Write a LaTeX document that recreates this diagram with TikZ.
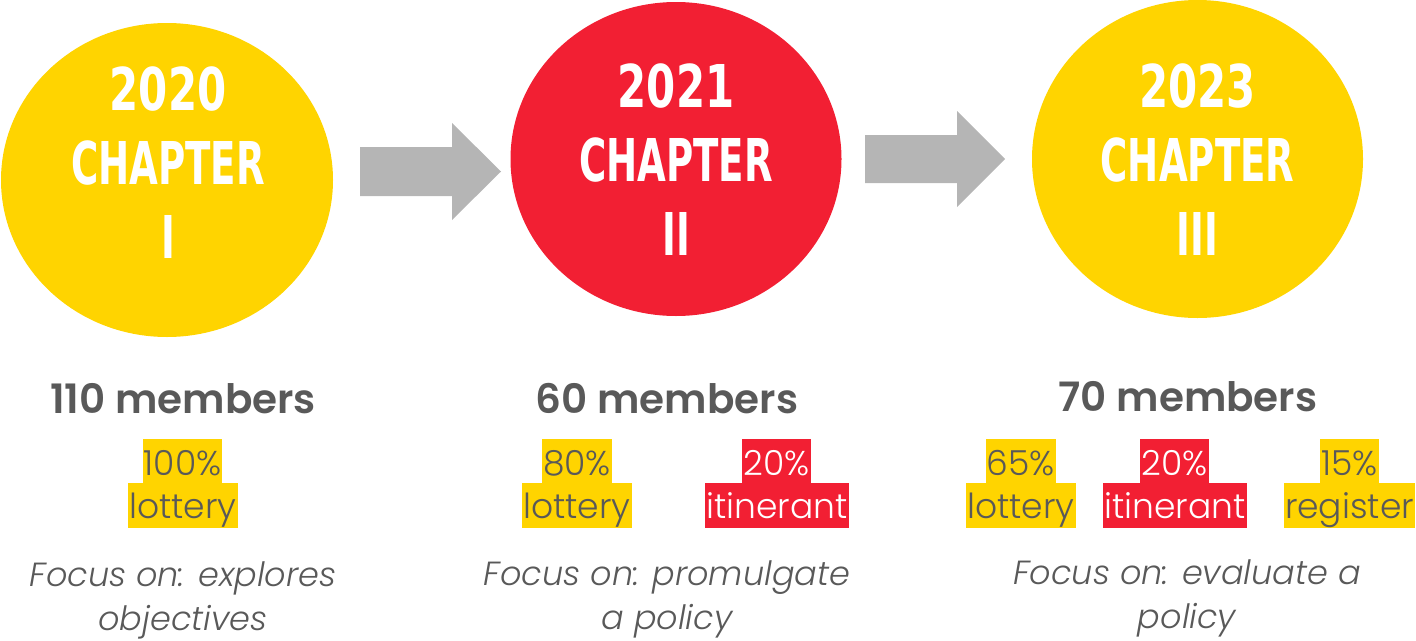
\documentclass[tikz,border=0pt]{standalone}
\usepackage{fontspec}
\setmainfont{Poppins}
\newfontfamily\headfont{DejaVu Sans}[FakeStretch=0.63]
\newfontfamily\yearfont{DejaVu Sans}[FakeStretch=0.71]
\newfontfamily\lightfont{Poppins Light}
\newfontfamily\focusfont{Poppins Light Italic}
\newfontfamily\membfont{Poppins SemiBold}
\usetikzlibrary{shapes.geometric}
\definecolor{cyel}{HTML}{FFD400}
\definecolor{cred}{HTML}{F21F33}
\definecolor{cgray}{HTML}{B5B5B5}
\definecolor{ctext}{HTML}{595959}
\begin{document}
\begin{tikzpicture}[x=1pt,y=-1pt,
 chap/.style={ellipse, minimum width=332pt, minimum height=314pt, inner sep=0pt},
 headtxt/.style={anchor=base, text=white, font=\headfont\bfseries\fontsize{59}{59}\selectfont, inner sep=0pt},
 yeartxt/.style={anchor=base, text=white, font=\yearfont\bfseries\fontsize{59}{59}\selectfont, inner sep=0pt},
 members/.style={anchor=base, text=ctext, font=\membfont\fontsize{40.5}{40.5}\selectfont, inner sep=0pt},
 pcttop/.style={anchor=base, inner xsep=1pt, inner ysep=0pt, font=\lightfont\fontsize{34.5}{34.5}\selectfont, text height=36pt, text depth=8pt},
 pctbot/.style={anchor=base, inner xsep=1pt, inner ysep=0pt, font=\lightfont\fontsize{34.5}{34.5}\selectfont, text height=35pt, text depth=10pt},
 ylw/.style={fill=cyel, text=ctext},
 rd/.style={fill=cred, text=white},
 focus/.style={anchor=base, text=ctext, font=\focusfont\fontsize{33.5}{33.5}\selectfont, inner sep=0pt},
 blockarrow/.style={fill=cgray}
]
\useasboundingbox (0,0) rectangle (1416,640);

% circles
\node[chap, fill=cyel] (c1) at (167,180) {};
\node[chap, fill=cred, minimum width=331pt] (c2) at (676,159) {};
\node[chap, fill=cyel, minimum width=331pt, minimum height=318pt] (c3) at (1197.5,159) {};

% arrows
\fill[blockarrow] (360,147) -- (452,147) -- (452,123) -- (501,171.5) -- (452,220) -- (452,196) -- (360,196) -- cycle;
\fill[blockarrow] (865,135) -- (957,135) -- (957,111) -- (1005,159) -- (957,207) -- (957,183) -- (865,183) -- cycle;

% circle texts
\node[yeartxt] (y1) at (168,110) {2020};
\node[headtxt] (h1) at (168,184) {CHAPTER};
\node[headtxt] (r1) at (168,258) {I};
\node[yeartxt] (y2) at (676,107) {2021};
\node[headtxt] (h2) at (676,181) {CHAPTER};
\node[headtxt] (r2) at (676,255) {II};
\node[yeartxt] (y3) at (1197.5,107) {2023};
\node[headtxt] (h3) at (1197.5,181) {CHAPTER};
\node[headtxt] (r3) at (1197.5,255) {III};

% members
\node[members] (m1) at (183,413) {110 members};
\node[members] (m2) at (667,413) {60 members};
\node[members] (m3) at (1188,411) {70 members};

% percentages
\node[pcttop, ylw] (p1a) at (182.5,475) {100\%};
\node[pctbot, ylw] (p1b) at (183,518) {lottery};
\node[pcttop, ylw] (p2a) at (577,475) {80\%};
\node[pctbot, ylw] (p2b) at (577,518) {lottery};
\node[pcttop, rd] (p3a) at (776.5,475) {20\%};
\node[pctbot, rd] (p3b) at (777,518) {itinerant};
\node[pcttop, ylw] (p4a) at (1021,475) {65\%};
\node[pctbot, ylw] (p4b) at (1021,518) {lottery};
\node[pcttop, rd] (p5a) at (1174.5,475) {20\%};
\node[pctbot, rd] (p5b) at (1175,518) {itinerant};
\node[pcttop, ylw] (p6a) at (1349.5,475) {15\%};
\node[pctbot, ylw] (p6b) at (1349.5,518) {register};

% focus
\node[focus] (f1a) at (183,586) {Focus on: explores};
\node[focus] (f1b) at (183,630) {objectives};
\node[focus] (f2a) at (667,585) {Focus on: promulgate};
\node[focus] (f2b) at (667,629) {a policy};
\node[focus] (f3a) at (1187,584) {Focus on: evaluate a};
\node[focus] (f3b) at (1187,628) {policy};
\end{tikzpicture}
\end{document}
